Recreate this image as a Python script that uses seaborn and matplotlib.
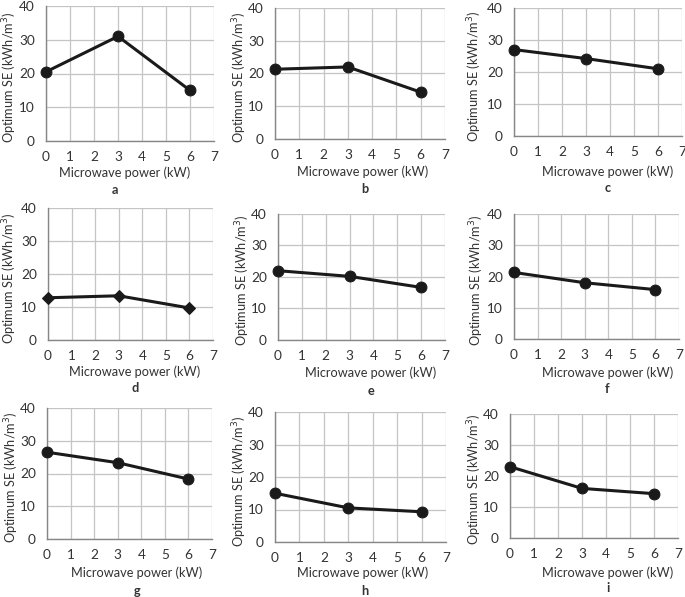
import pandas as pd
import matplotlib
matplotlib.use("Agg")
import matplotlib.pyplot as plt
import seaborn as sns

# data
power = [0, 3, 6]
panel_letters = ["a", "b", "c", "d", "e", "f", "g", "h", "i"]
se_a = [20.5, 31.0, 15.0]
se_b = [21.3, 22.0, 14.3]
se_c = [27.0, 24.2, 21.0]
se_d = [12.8, 13.4, 9.7]
se_e = [22.0, 20.2, 16.7]
se_f = [21.3, 18.0, 15.8]
se_g = [26.5, 23.3, 18.3]
se_h = [15.0, 10.5, 9.3]
se_i = [23.0, 16.0, 14.3]
series = [se_a, se_b, se_c, se_d, se_e, se_f, se_g, se_h, se_i]
markers = ["o", "o", "o", "D", "o", "o", "o", "o", "o"]

xticks = list(range(0, 8))
yticks = [0, 10, 20, 30, 40]

sns.set_style("white")
plt.rcParams["font.family"] = ["Lato", "DejaVu Sans"]

W, H = 685, 597
# pixel layout per panel: axes box (x at 0, x at 7, y at 40, y at 0),
# x-label centre, letter centre, y-label centre x
boxes = [
    (46, 214, 6, 141), (275, 445, 8, 139), (514, 682, 8, 136),
    (48, 213, 208, 340), (278, 445, 214, 340), (514, 679, 214, 339),
    (47, 212, 408, 539), (275, 446, 412, 542), (510, 678, 414, 538),
]
xlab_pos = [(125, 173), (363, 172), (608, 172),
            (135, 372), (371, 373), (608, 373),
            (137, 573), (363, 573), (608, 573)]
letter_pos = [(115, 190), (365, 189), (608, 188),
              (135, 388), (371, 391), (607, 389),
              (137, 591), (365, 591), (608, 588)]
ylab_x = [10, 240, 475, 10, 243, 477, 12, 240, 475]

dark = "#333333"
fig = plt.figure(figsize=(W / 100, H / 100), dpi=100)

for k in range(9):
    x0, x1, yt, yb = boxes[k]
    ax = fig.add_axes([x0 / W, 1 - yb / H, (x1 - x0) / W, (yb - yt) / H])
    df = pd.DataFrame({"power": power, "se": series[k]})
    ms = 6 if markers[k] == "D" else 7.8
    sns.lineplot(data=df, x="power", y="se", ax=ax, color="#1a1a1a",
                 linewidth=2.2, marker=markers[k], markersize=ms,
                 markeredgecolor="#1a1a1a", clip_on=False, zorder=3)
    ax.set_xlim(0, 7)
    ax.set_ylim(0, 40)
    ax.set_xticks(xticks)
    ax.set_yticks(yticks)
    ax.grid(True, color="#c4c4c4", linewidth=0.9)
    ax.set_axisbelow(True)
    for s in ["top", "right"]:
        ax.spines[s].set_visible(False)
    for s in ["left", "bottom"]:
        ax.spines[s].set_color("#868686")
        ax.spines[s].set_linewidth(1.0)
    ax.tick_params(axis="both", labelsize=9.8, colors="#868686", length=3,
                   width=1.0, direction="out", labelcolor=dark)
    ax.tick_params(axis="x", pad=4)
    ax.tick_params(axis="y", pad=5)

    ax.set_xlabel("Microwave power (kW)", fontsize=9.2, color=dark)
    lx, ly = xlab_pos[k]
    ax.xaxis.set_label_coords((lx - x0) / (x1 - x0), (yb - ly) / (yb - yt))
    ax.xaxis.label.set_va("center")

    ax.set_ylabel("Optimum SE (kWh/m$^3$)", fontsize=9.2, color=dark)
    ax.yaxis.set_label_coords((ylab_x[k] - x0) / (x1 - x0), 0.47)
    ax.yaxis.label.set_ha("center")
    ax.yaxis.label.set_va("center")

    tx, ty = letter_pos[k]
    fig.text(tx / W, 1 - ty / H, panel_letters[k], ha="center", va="center",
             fontsize=9.2, fontweight="bold", color=dark)

fig.savefig("out.png", dpi=100)
